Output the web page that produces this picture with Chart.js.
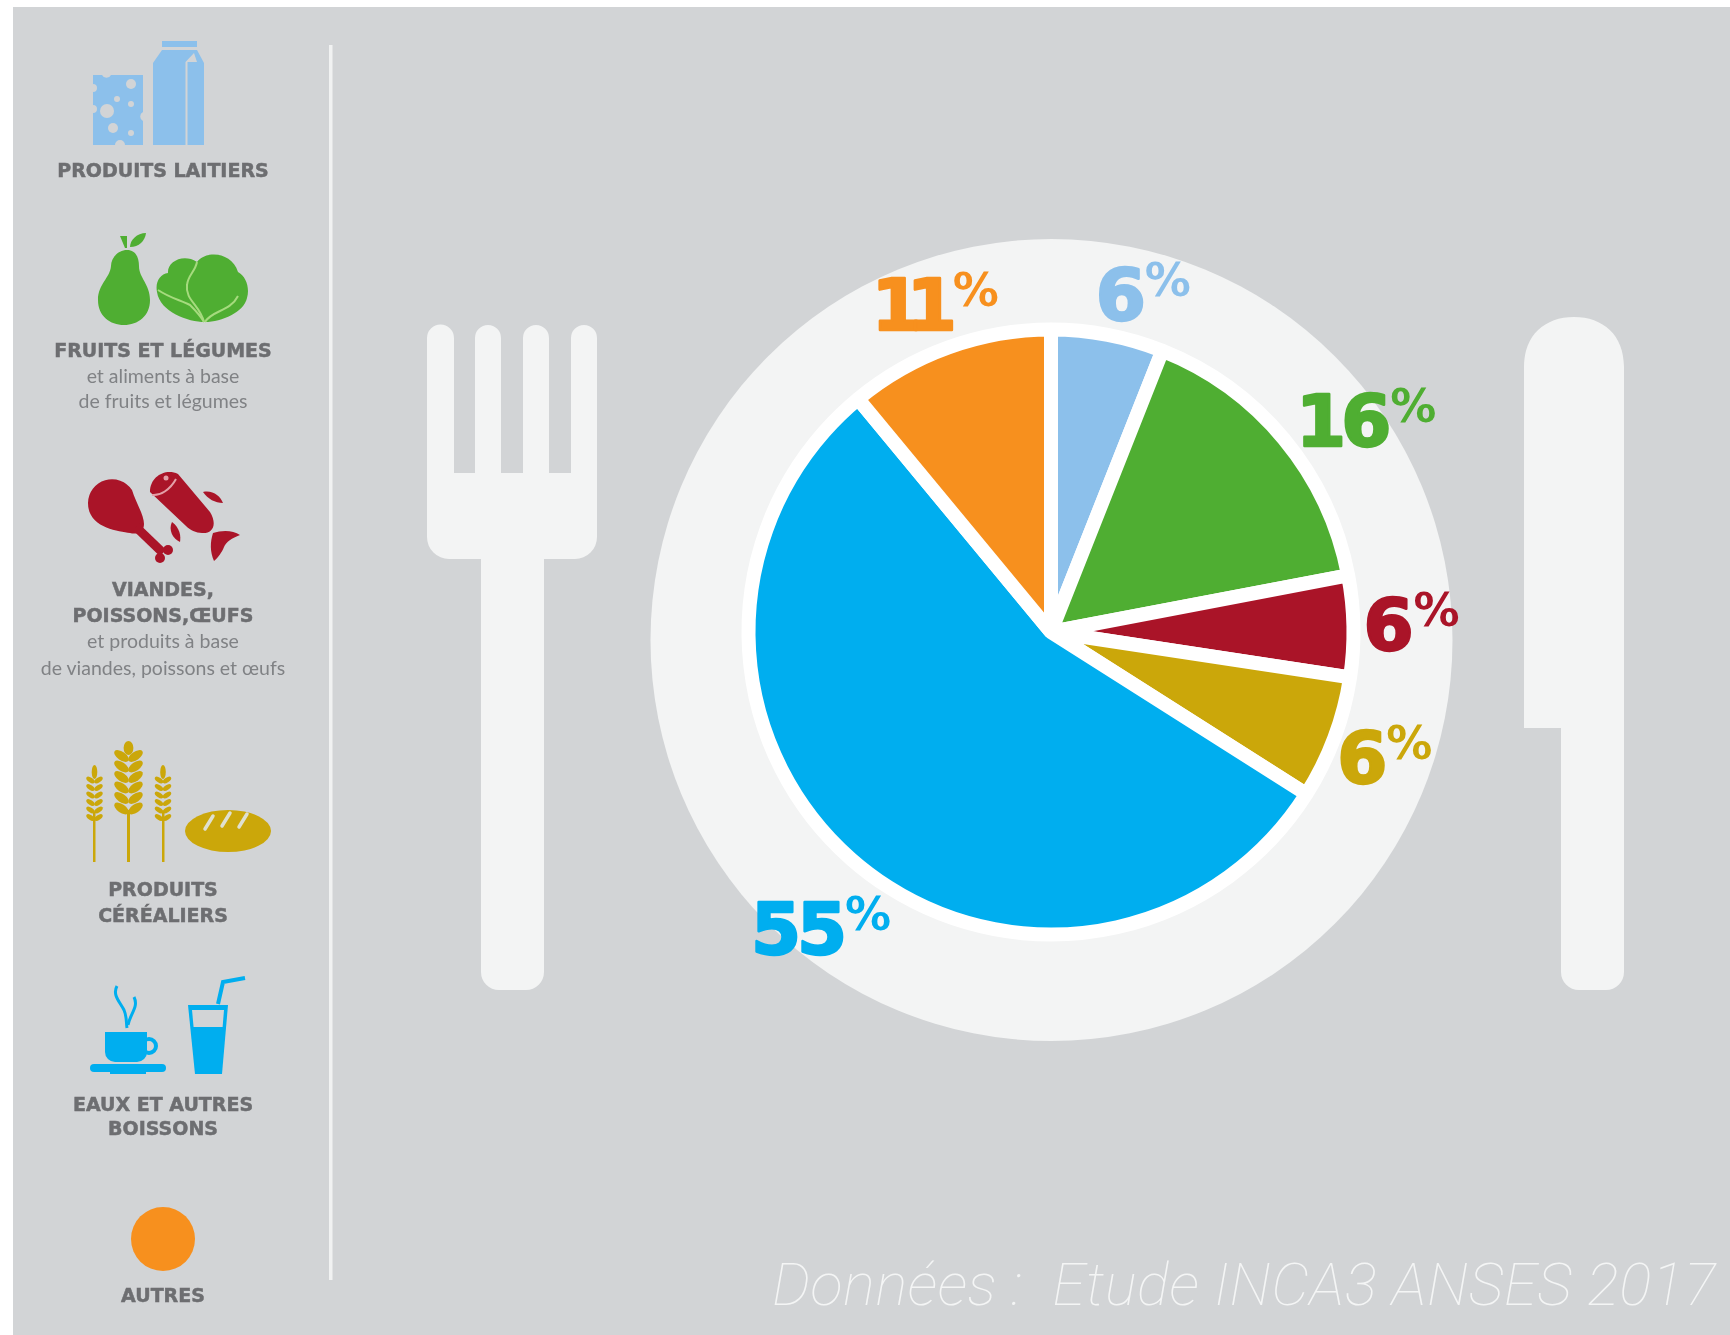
<!DOCTYPE html>
<html lang="fr">
<head>
<meta charset="utf-8">
<title>Données INCA3</title>
<script src="https://cdn.jsdelivr.net/npm/chart.js@4"></script>
<style>
    html, body { margin: 0; padding: 0; background: #fff; }
    #page { position: relative; width: 1730px; height: 1335px; overflow: hidden; }
    #panel { position: absolute; left: 13px; top: 7px; right: 0; bottom: 0; background: #d2d4d6; }
    #deco, #pie { position: absolute; left: 0; top: 0; }
    .legend-line {
        position: absolute; left: 13px; width: 300px; text-align: center; white-space: nowrap; line-height: 1;
    }
    .legend-line.head { font: bold 19px "DejaVu Sans", sans-serif; color: #6d6e71; -webkit-text-stroke: 0.5px #6d6e71; }
    .legend-line.sub { font: 19.5px Lato, sans-serif; color: #808285; }
    #source {
        position: absolute; left: 772px; top: 1250px; white-space: pre; color: #f4f5f5;
        font: italic 100 60px Roboto, sans-serif; line-height: 70px; letter-spacing: 0.5px;
    }
</style>
</head>
<body>
<div id="page">
    <div id="panel"></div>
    <svg id="deco" width="1730" height="1335" viewBox="0 0 1730 1335">
        <!-- separateur -->
        <rect x="329" y="45" width="3.5" height="1235" fill="#f1f2f2"/>

        <!-- assiette -->
        <circle cx="1051.5" cy="640" r="401" fill="#f3f4f4"/>
        <circle cx="1051" cy="632" r="306.5" fill="#fff"/>

        <!-- fourchette -->
        <path fill="#f3f4f4" d="M427 338 a13.5 13.5 0 0 1 27 0 V473 H475 V338 a13 13 0 0 1 26 0 V473 H523 V338 a13 13 0 0 1 26 0 V473 H571 V338 a13 13 0 0 1 26 0 V537 a22 22 0 0 1 -22 22 H544 V972 a18 18 0 0 1 -18 18 H499 a18 18 0 0 1 -18 -18 V559 H449 a22 22 0 0 1 -22 -22 Z"/>

        <!-- couteau -->
        <path fill="#f3f4f4" d="M1524 367 C1524 335,1545 317,1574 317 C1603 317,1624 335,1624 367 V972 a18 18 0 0 1 -18 18 H1579 a18 18 0 0 1 -18 -18 V728 H1524 Z"/>

        <!-- produits laitiers -->
        <g fill="#8cc0eb">
            <path d="M93 75 H102 a5 5 0 0 0 9 0 H143 V112 a5 5 0 0 0 0 9 V145 H125 a5 5 0 0 0 -10 0 H93 V113 a4 4 0 0 0 0 -8 V92 a4 4 0 0 0 0 -8 Z"/>
            <rect x="162" y="41" width="35" height="6"/>
            <path d="M162 50 H197 L204 63 V145 H153 V63 Z"/>
        </g>
        <g fill="#d2d4d6">
            <circle cx="107" cy="111" r="7"/><circle cx="113" cy="128" r="5"/><circle cx="117" cy="99" r="3"/>
            <circle cx="131" cy="84" r="5"/><circle cx="131" cy="104" r="3"/><circle cx="131" cy="133" r="3"/>
            <path d="M185.5 145 V62 L194 53 L197 62 H187.5 V145 Z"/>
        </g>

        <!-- fruits et legumes -->
        <g fill="#4fae32">
            <path d="M127 250 C136 250,139 258,139 266 C139 278,150 284,150 300 C150 316,138 325,124 325 C110 325,98 316,98 300 C98 284,110 278,111 266 C111 258,118 250,127 250 Z"/>
            <path d="M120 236 H127 L127 248 H125 Z"/>
            <path d="M130 247 C130 240,137 233,146 233 C145 241,139 247,130 247 Z"/>
            <path d="M205 322 C188 322,160 312,157 292 C155 282,160 274,168 273 C167 262,183 253,197 262 C206 250,232 252,238 272 C246 276,250 288,247 298 C244 312,222 322,205 322 Z"/>
        </g>
        <g fill="none" stroke="#a6db7e" stroke-width="2">
            <path d="M204 322 C200 305,185 300,187 285 C188 275,195 272,197 262"/>
            <path d="M158 290 C170 298,180 300,190 305 C195 310,200 315,204 322"/>
            <path d="M205 322 C212 310,230 312,238 296"/>
        </g>

        <!-- viandes, poissons, oeufs -->
        <g fill="#aa1428">
            <path d="M88 503 a24 24 0 0 1 44 -13 C136 503,144 515,144 524 C144 532,137 535,130 533 C118 531,88 528,88 503 Z"/>
            <path d="M150 492 C150 476,166 468,178 474 L210 512 C218 525,212 534,202 533 C196 533,190 530,186 526 Z"/>
            <path d="M203 492 C213 490,220 496,223 503 C215 503,208 499,203 492 Z"/>
            <path d="M172 522 C180 528,181 536,180 542 C173 539,168 530,172 522 Z"/>
            <path d="M213 533 C222 530,233 530,240 535 C232 538,226 542,224 547 C222 552,218 558,214 561 C210 552,210 542,213 533 Z"/>
            <circle cx="168" cy="550" r="5"/><circle cx="160" cy="558" r="5"/>
        </g>
        <path d="M136 527 L163 553" stroke="#aa1428" stroke-width="9" fill="none"/>
        <path d="M152 495 C160 496,170 490,176 479" fill="none" stroke="#e3a0a8" stroke-width="2"/>
        <circle cx="166" cy="478" r="2.5" fill="#e3a0a8"/>

        <!-- produits cerealiers -->
        <g id="wheat" fill="#cba70a">
            <rect x="93" y="812" width="2.5" height="50"/>
            <rect x="127" y="810" width="3" height="52"/>
            <rect x="162" y="812" width="2.5" height="50"/>
            <ellipse cx="228" cy="831" rx="43" ry="21"/>
        </g>
        <g fill="none" stroke="#dfe0d0" stroke-width="3.5" stroke-linecap="round">
            <path d="M205 829 L213 816"/><path d="M222 826 L230 813"/><path d="M239 827 L247 814"/>
        </g>

        <!-- eaux et autres boissons -->
        <g fill="#00aeef">
            <rect x="90" y="1064" width="76" height="8" rx="4"/>
            <rect x="110" y="1072" width="36" height="2"/>
            <path d="M105 1032 H147 V1052 a10 10 0 0 1 -10 10 H115 a10 10 0 0 1 -10 -10 Z"/>
            <path d="M188 1005 H228 L222 1074 H195 Z"/>
        </g>
        <circle cx="149" cy="1046" r="7" fill="none" stroke="#00aeef" stroke-width="4"/>
        <path d="M192 1010 H224 L222.6 1027 H193.6 Z" fill="#d2d4d6"/>
        <g fill="none" stroke="#00aeef" stroke-width="3">
            <path d="M218 1004 L223 982 L245 978" stroke-width="4"/>
            <path d="M117 986 C112 995,120 1002,124 1010 C127 1017,126 1022,127 1028"/>
            <path d="M134 997 C139 1007,130 1014,128 1025"/>
        </g>

        <!-- autres -->
        <circle cx="163" cy="1239" r="32" fill="#f7901e"/>
    </svg>
    <canvas id="pie" width="1730" height="1335"></canvas>
    <div id="source">Données :  Etude INCA3 ANSES 2017</div>
</div>
<script>
const categories = ['Produits laitiers', 'Fruits et légumes', 'Viandes, poissons, œufs', 'Produits céréaliers', 'Eaux et autres boissons', 'Autres'];
const shares = [6, 16, 5.4, 6.6, 55, 11];
const shareLabels = ['6', '16', '6', '6', '55', '11'];
const sliceColors = ['#8cc0eb', '#4fae32', '#aa1428', '#cba70a', '#00aeef', '#f7901e'];

// decalage de chaque etiquette par rapport au milieu de l'arc exterieur
const labelOffsets = [[-8, -15], [20, 7], [14, 24], [7, 45], [-95, 95], [-69, -17]];
const digitSpacing = ['0px', '-5px', '0px', '0px', '-4px', '-15px'];
const percentGaps = [2, 2, 3, 2, 2, 0];

// lignes de la legende : texte, baseline, type
const legendLines = [
    ['PRODUITS LAITIERS', 178, 'head'],
    ['FRUITS ET LÉGUMES', 358, 'head'],
    ['et aliments à base', 383, 'sub'],
    ['de fruits et légumes', 408, 'sub'],
    ['VIANDES,', 597, 'head'],
    ['POISSONS,ŒUFS', 623, 'head'],
    ['et produits à base', 648, 'sub'],
    ['de viandes, poissons et œufs', 675, 'sub'],
    ['PRODUITS', 897, 'head'],
    ['CÉRÉALIERS', 923, 'head'],
    ['EAUX ET AUTRES', 1112, 'head'],
    ['BOISSONS', 1136, 'head'],
    ['AUTRES', 1303, 'head']
];

const page = document.getElementById('page');
legendLines.forEach(([text, baseline, kind]) => {
    const line = document.createElement('div');
    line.className = `legend-line ${kind}`;
    line.textContent = text;
    line.style.top = `${baseline - 19}px`;
    page.appendChild(line);
});

// epis de ble
const wheat = document.getElementById('wheat');
const addEar = (cx, top, rows, width, step) => {
    const ns = 'http://www.w3.org/2000/svg';
    const addGrain = (x, y, rx, ry, angle) => {
        const grain = document.createElementNS(ns, 'ellipse');
        grain.setAttribute('cx', x);
        grain.setAttribute('cy', y);
        grain.setAttribute('rx', rx);
        grain.setAttribute('ry', ry);
        grain.setAttribute('transform', `rotate(${angle} ${x} ${y})`);
        wheat.appendChild(grain);
    };
    addGrain(cx, top + 6, width * 0.35, 7, 0);
    for (let i = 0; i < rows; i++) {
        const y = top + 14 + i * step;
        addGrain(cx - width * 0.5, y, width * 0.6, width * 0.3, 35);
        addGrain(cx + width * 0.5, y, width * 0.6, width * 0.3, -35);
    }
};
addEar(94.5, 766, 6, 8, 7.5);
addEar(128.5, 742, 6, 14, 10.5);
addEar(163, 766, 6, 8, 7.5);

// etiquettes en pourcentage, posees depuis les arcs du graphique
const percentLabels = {
    id: 'percentLabels',
    afterDatasetsDraw(chart) {
        const { ctx } = chart;
        const arcs = chart.getDatasetMeta(0).data;
        ctx.save();
        ctx.textAlign = 'left';
        ctx.textBaseline = 'alphabetic';
        ctx.lineJoin = 'round';
        arcs.forEach((arc, i) => {
            const mid = (arc.startAngle + arc.endAngle) / 2;
            const x = arc.x + Math.cos(mid) * arc.outerRadius + labelOffsets[i][0];
            const y = arc.y + Math.sin(mid) * arc.outerRadius + labelOffsets[i][1];
            ctx.fillStyle = sliceColors[i];
            ctx.strokeStyle = sliceColors[i];
            ctx.lineWidth = 2.5;
            ctx.font = 'bold 72px "DejaVu Sans"';
            ctx.letterSpacing = digitSpacing[i];
            const box = ctx.measureText(shareLabels[i]);
            const left = x + box.actualBoundingBoxLeft;
            ctx.fillText(shareLabels[i], left, y);
            ctx.strokeText(shareLabels[i], left, y);
            ctx.font = 'bold 46px "DejaVu Sans"';
            ctx.letterSpacing = '0px';
            ctx.fillText('%', left + box.actualBoundingBoxRight + percentGaps[i], y - 24);
        });
        ctx.restore();
    }
};

new Chart(document.getElementById('pie').getContext('2d'), {
    type: 'pie',
    data: {
        labels: categories,
        datasets: [{
            data: shares,
            backgroundColor: sliceColors,
            borderColor: '#fff',
            borderWidth: 14,
            radius: 302.5
        }]
    },
    options: {
        responsive: false,
        animation: false,
        layout: { padding: { left: 372, bottom: 71 } },
        plugins: { legend: { display: false }, tooltip: { enabled: false } }
    },
    plugins: [percentLabels]
});
</script>
</body>
</html>
